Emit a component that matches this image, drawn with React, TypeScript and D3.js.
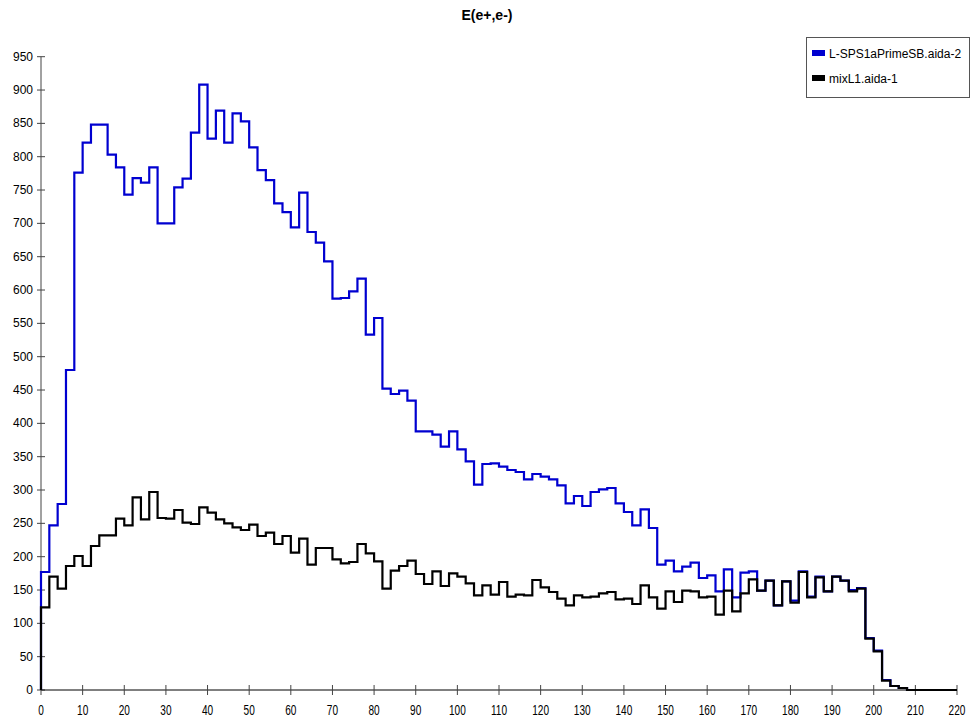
import { useEffect, useRef } from 'react';
import * as d3 from 'd3';

// bin lower edges, 2 units wide
const binStarts = d3.range(0, 220, 2);

const seriesNames = ['L-SPS1aPrimeSB.aida-2', 'mixL1.aida-1'];
const seriesColors = ['#0000d0', '#000000'];

const blueValues = [
  177, 247, 279, 480, 776, 821, 848, 848, 803, 784,
  743, 768, 761, 784, 700, 700, 754, 767, 836, 908,
  827, 869, 821, 865, 853, 814, 780, 765, 730, 717,
  694, 746, 687, 671, 643, 587, 588, 598, 617, 533,
  558, 452, 444, 449, 434, 388, 388, 383, 365, 388,
  361, 343, 308, 339, 340, 335, 330, 327, 316, 324,
  320, 316, 307, 280, 291, 276, 297, 301, 303, 280,
  267, 247, 271, 243, 188, 194, 178, 185, 191, 168,
  172, 148, 181, 139, 176, 178, 149, 164, 127, 163,
  134, 178, 140, 170, 148, 170, 164, 150, 153, 78,
  59, 15, 6, 3, 0, 0, 0, 0, 0, 0,
];

const blackValues = [
  124, 170, 152, 186, 201, 186, 216, 232, 232, 257,
  247, 289, 256, 297, 258, 257, 270, 251, 249, 274,
  266, 256, 250, 244, 240, 248, 231, 236, 219, 231,
  206, 227, 188, 213, 213, 196, 190, 192, 219, 205,
  193, 152, 179, 186, 194, 174, 159, 178, 156, 175,
  170, 160, 142, 157, 143, 162, 140, 143, 142, 165,
  154, 147, 137, 127, 142, 139, 140, 145, 147, 136,
  137, 129, 157, 139, 122, 148, 132, 149, 148, 139,
  140, 113, 149, 118, 145, 166, 149, 164, 127, 163,
  131, 177, 139, 169, 148, 170, 164, 148, 152, 77,
  58, 14, 6, 3, 0, 0, 0, 0, 0, 0,
];

const xTicks = d3.range(0, 221, 10);
const yTicks = d3.range(0, 951, 50);

const App = (): JSX.Element => {
  const svgRef = useRef<SVGSVGElement>(null);

  useEffect(() => {
    const width = 971;
    const height = 723;
    const left = 41;
    const right = 957;
    const top = 56.7;
    const bottom = 690;
    const squeeze = 0.72;

    const svg = d3.select(svgRef.current);
    svg.selectAll('*').remove();
    svg.attr('width', width).attr('height', height);

    const x = d3.scaleLinear().domain([0, 220]).range([left, right]);
    const y = d3.scaleLinear().domain([0, 950]).range([bottom, top]);

    svg.append('rect').attr('width', width).attr('height', height).attr('fill', 'white');

    // title
    svg.append('text')
      .attr('x', 487)
      .attr('y', 20)
      .attr('text-anchor', 'middle')
      .attr('font-family', 'Liberation Sans, Arial, sans-serif')
      .attr('font-size', 14)
      .attr('font-weight', 'bold')
      .text('E(e+,e-)');

    // y axis
    const yAxis = svg.append('g');
    yAxis.append('line')
      .attr('x1', left).attr('x2', left)
      .attr('y1', y(950)).attr('y2', bottom)
      .attr('stroke', '#444');
    yAxis.selectAll('line.tick').data(yTicks).enter().append('line')
      .attr('class', 'tick')
      .attr('x1', left - 4).attr('x2', left + 4)
      .attr('y1', d => y(d)).attr('y2', d => y(d))
      .attr('stroke', '#444');
    yAxis.selectAll('text').data(yTicks).enter().append('text')
      .attr('x', 33)
      .attr('y', d => y(d) + 4)
      .attr('text-anchor', 'end')
      .attr('font-family', 'Liberation Sans, Arial, sans-serif')
      .attr('font-size', 12)
      .text(d => d);

    // x axis
    const xAxis = svg.append('g');
    xAxis.append('line')
      .attr('x1', left).attr('x2', right)
      .attr('y1', bottom).attr('y2', bottom)
      .attr('stroke', '#000');
    xAxis.selectAll('line.tick').data(xTicks).enter().append('line')
      .attr('class', 'tick')
      .attr('x1', d => x(d)).attr('x2', d => x(d))
      .attr('y1', bottom - 5).attr('y2', bottom + 5)
      .attr('stroke', '#444');
    // condensed labels, like the narrow font of the original
    xAxis.selectAll('text').data(xTicks).enter().append('text')
      .attr('transform', `scale(${squeeze},1)`)
      .attr('x', d => x(d) / squeeze)
      .attr('y', 715)
      .attr('text-anchor', 'middle')
      .attr('font-family', 'Liberation Sans, Arial, sans-serif')
      .attr('font-size', 14)
      .text(d => d);

    // histograms as step lines
    const line = d3.line<[number, number]>()
      .x(d => x(d[0]))
      .y(d => y(d[1]))
      .curve(d3.curveStepAfter);

    const toPoints = (vals: number[]): [number, number][] => {
      const pts: [number, number][] = [[0, 0]];
      binStarts.forEach((b, i) => pts.push([b, vals[i]]));
      pts.push([220, vals[vals.length - 1]]);
      return pts;
    };

    [blueValues, blackValues].forEach((vals, i) => {
      svg.append('path')
        .attr('d', line(toPoints(vals)))
        .attr('fill', 'none')
        .attr('stroke', seriesColors[i])
        .attr('stroke-width', 2.2)
        .attr('stroke-linejoin', 'miter');
    });

    // legend
    const legend = svg.append('g');
    legend.append('rect')
      .attr('x', 806.5).attr('y', 37.5)
      .attr('width', 163).attr('height', 60)
      .attr('fill', 'white')
      .attr('stroke', '#555');
    seriesNames.forEach((name, i) => {
      legend.append('rect')
        .attr('x', 812).attr('y', 50 + i * 25)
        .attr('width', 13).attr('height', 6)
        .attr('fill', seriesColors[i]);
      legend.append('text')
        .attr('x', 829).attr('y', 58 + i * 25)
        .attr('font-family', 'Liberation Sans, Arial, sans-serif')
        .attr('font-size', 12)
        .text(name);
    });
  }, []);

  return (
    <div>
      <svg ref={svgRef} style={{ position: 'absolute', left: 0, top: 0 }}></svg>
    </div>
  );
};

export default App;
